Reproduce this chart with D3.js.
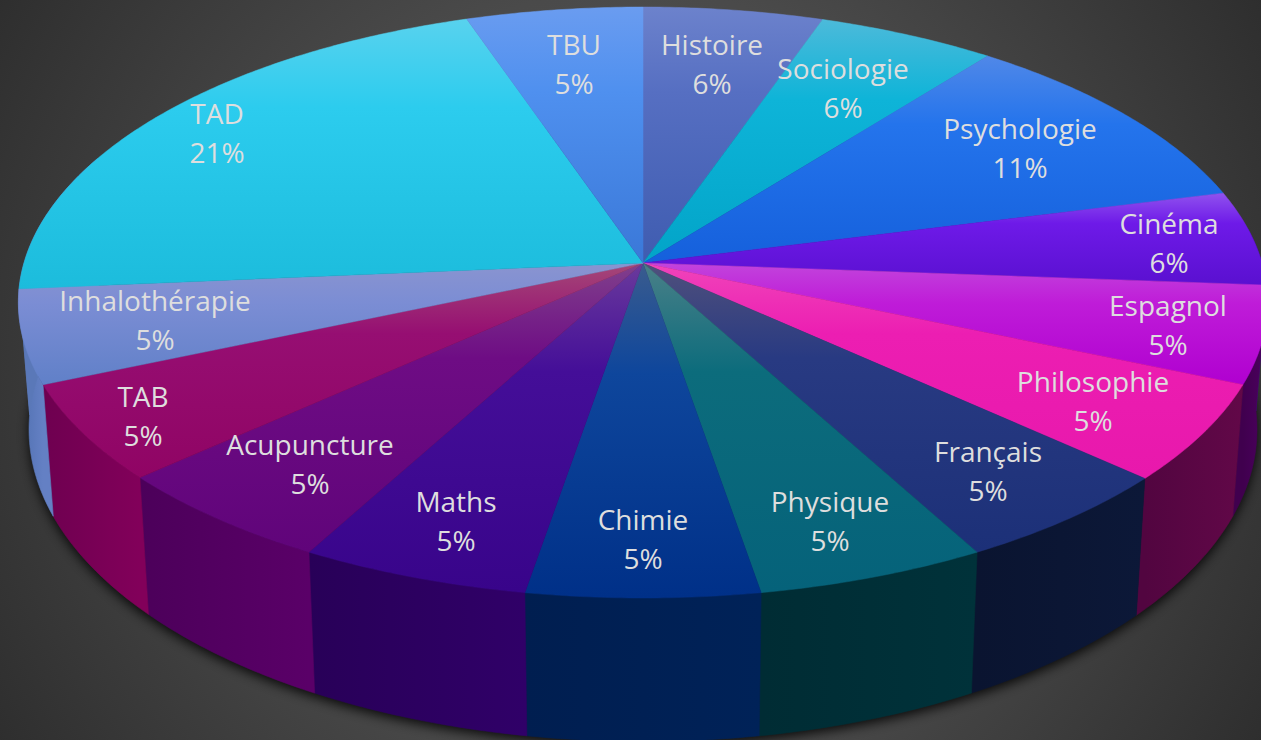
<!DOCTYPE html>
<html><head><meta charset="utf-8">
<style>html,body{margin:0;padding:0;background:#3a3a3a;overflow:hidden}svg{display:block}</style>
<script src="https://cdnjs.cloudflare.com/ajax/libs/d3/7.8.5/d3.min.js"></script>
</head><body>
<script>
const categories = ["Histoire","Sociologie","Psychologie","Cinéma","Espagnol","Philosophie","Français","Physique","Chimie","Maths","Acupuncture","TAB","Inhalothérapie","TAD","TBU"];
const shares = [5.3,5.25,10.45,5.2,5.3,5.3,5.3,5.25,5.3,5.25,5.35,5.25,5.1,21.2,5.2];
const percentLabels = ["6%","6%","11%","6%","5%","5%","5%","5%","5%","5%","5%","5%","5%","21%","5%"];

const faceTop = ["#6c82cc","#4cbada","#5088e8","#9052ee","#c244dc","#f044ba","#50507c","#4a8088","#3a5c8e","#6a3a9c","#80408c","#a44878","#8a94d0","#58d2ee","#6a9cf0"];
const faceMid = ["#566fc2","#0eb4d8","#2474ec","#6e1ae8","#bf1cd8","#ec1eb2","#283a82","#0c6c7c","#0e469c","#440e98","#6e0c84","#960e72","#7b8dd4","#2cccee","#4f90ef"];
const faceEnd = ["#3f5cb0","#02a4c8","#1560dc","#5a10d0","#b000d0","#e818ac","#1c3078","#05627a","#003088","#38048a","#60047a","#900464","#6080c8","#1cbcdc","#3a78d8"];
const wallDark = ["#3f5cb0","#02a4c8","#1560dc","#3a0a90","#40004e","#520540","#0a1430","#002c34","#001e50","#280058","#4c005a","#6e0050","#5070b0","#5a78b8","#3a78d8"];
const wallLight = ["#3f5cb0","#02a4c8","#1560dc","#3a0a90","#4c0060","#620848","#0c1838","#00323a","#002258","#300068","#5a0068","#82005a","#6480c4","#5a78b8","#3a78d8"];

// Label centres of the name line; the percent sits one line lower
const labelAnchors = [[712,45],[843,69],[1020,129],[1169,224],[1168,306],[1093,382],[988,452],[830,502],[643,520],[456,502],[310,445],[143,397],[155,301],[217,114],[574,45]];

const W = 1261, H = 740;
const cx = 643, cy = 263, A = 619, B = 290.2, k = 0.1337;
const wallScale = 0.983, wallA = 110, wallB = 1.056;

function topPoint(t){
  const X = Math.sin(t), Y = -Math.cos(t), d = 1 - k*Y;
  return [cx + A*X/d, cy + B*Y/d];
}
function bottomPoint(t){
  const p = topPoint(t);
  return [cx + (p[0]-cx)*wallScale, wallA + wallB*p[1]];
}
function arcAngles(a0,a1){
  const n = Math.max(2, Math.ceil((a1-a0)/0.01));
  return d3.range(n+1).map(i => a0 + (a1-a0)*i/n);
}

const svg = d3.select("body").append("svg").attr("width",W).attr("height",H);
const defs = svg.append("defs");

const bg = defs.append("radialGradient").attr("id","bg").attr("gradientUnits","userSpaceOnUse")
  .attr("cx",630).attr("cy",370).attr("r",760);
bg.append("stop").attr("offset",0).attr("stop-color","#595959");
bg.append("stop").attr("offset",0.5).attr("stop-color","#4a4a4a");
bg.append("stop").attr("offset",1).attr("stop-color","#2c2c2c");
svg.append("rect").attr("width",W).attr("height",H).attr("fill","url(#bg)");

const blur = defs.append("filter").attr("id","soft").attr("x","-10%").attr("y","-10%").attr("width","120%").attr("height","120%");
blur.append("feGaussianBlur").attr("stdDeviation",6);

const line = d3.line();
const pie = d3.pie().sort(null).value(d=>d.share).startAngle(0).endAngle(2*Math.PI);
const slices = pie(categories.map((name,i)=>({name,share:shares[i],pct:percentLabels[i],i})));

// drop shadow of the base
svg.append("path")
  .attr("d", line(arcAngles(0,2*Math.PI).map(bottomPoint))+"Z")
  .attr("fill","#000").attr("opacity",0.85).attr("filter","url(#soft)")
  .attr("transform","translate(0,4)");

// walls (front half only is visible)
const frontFrom = 1.45, frontTo = 5.1;
const walls = slices.filter(s=>s.endAngle>frontFrom && s.startAngle<frontTo);
walls.forEach(s=>{
  const g = defs.append("linearGradient").attr("id","w"+s.data.i).attr("gradientUnits","userSpaceOnUse");
  const a0 = Math.max(s.startAngle,frontFrom), a1 = Math.min(s.endAngle,frontTo);
  const p0 = topPoint(a0), p1 = topPoint(a1);
  g.attr("x1",p0[0]).attr("x2",p1[0]).attr("y1",0).attr("y2",0);
  g.append("stop").attr("offset",0).attr("stop-color",wallLight[s.data.i]);
  g.append("stop").attr("offset",1).attr("stop-color",wallDark[s.data.i]);
});
svg.append("g").selectAll("path").data(walls).join("path")
  .attr("d",s=>{
    const a0 = Math.max(s.startAngle,frontFrom), a1 = Math.min(s.endAngle,frontTo);
    const as = arcAngles(a0,a1);
    return line(as.map(topPoint).concat(as.slice().reverse().map(bottomPoint)))+"Z";
  })
  .attr("fill",s=>`url(#w${s.data.i})`)
  .attr("stroke",s=>`url(#w${s.data.i})`).attr("stroke-width",0.6);

// top face
slices.forEach(s=>{
  const pts = arcAngles(s.startAngle,s.endAngle).map(topPoint).concat([[cx,cy]]);
  s.pts = pts;
  const ys = d3.extent(pts,p=>p[1]);
  const g = defs.append("linearGradient").attr("id","f"+s.data.i).attr("gradientUnits","userSpaceOnUse")
    .attr("x1",0).attr("x2",0).attr("y1",ys[0]).attr("y2",ys[1]);
  g.append("stop").attr("offset",0).attr("stop-color",faceTop[s.data.i]);
  g.append("stop").attr("offset",0.33).attr("stop-color",faceMid[s.data.i]);
  g.append("stop").attr("offset",1).attr("stop-color",faceEnd[s.data.i]);
});
svg.append("g").selectAll("path").data(slices).join("path")
  .attr("d",s=>line(s.pts)+"Z")
  .attr("fill",s=>`url(#f${s.data.i})`)
  .attr("stroke",s=>`url(#f${s.data.i})`).attr("stroke-width",0.5);

// labels
const labels = svg.append("g").attr("font-family","'Open Sans','Noto Sans',sans-serif")
  .attr("font-size",28).attr("fill","#dedede").attr("text-anchor","middle");
slices.forEach((s,i)=>{
  const [x,y] = labelAnchors[i];
  labels.append("text").attr("x",x).attr("y",y).attr("dy","0.35em").text(s.data.name);
  labels.append("text").attr("x",x).attr("y",y+39).attr("dy","0.35em").text(s.data.pct);
});
</script>
</body></html>
